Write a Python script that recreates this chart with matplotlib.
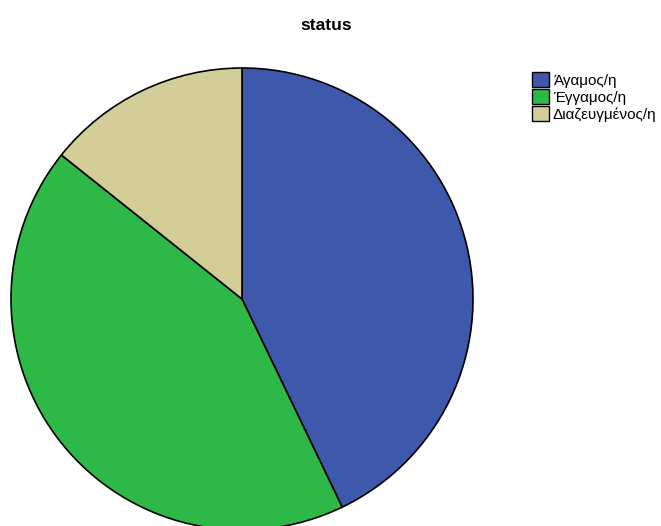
import matplotlib.pyplot as plt
from matplotlib.patches import Patch

# Values (counts per marital status)
labels = ['Άγαμος/η', 'Έγγαμος/η', 'Διαζευγμένος/η']
counts = [3, 3, 1]
colors = ['#3e58ac', '#2eb848', '#d3ce97']

plt.rcParams['font.family'] = ['Liberation Sans', 'DejaVu Sans']

W, H = 661, 526
fig = plt.figure(figsize=(W / 100, H / 100), dpi=100)
ax = fig.add_axes([0, 0, 1, 1])
ax.set_xlim(0, W)
ax.set_ylim(0, H)
ax.set_aspect('equal')
ax.axis('off')

# pie centre / radius in pixel coords (y measured from bottom)
ax.pie(counts, colors=colors, startangle=90, counterclock=False,
       center=(242, H - 299), radius=231,
       wedgeprops={'edgecolor': 'black', 'linewidth': 1.2})
ax.set_xlim(0, W)
ax.set_ylim(0, H)

fig.text(326 / W, 1 - 25 / H, 'status', ha='center', va='center',
         fontsize=12.5, fontweight='bold')

handles = [Patch(facecolor=c, edgecolor='black', linewidth=1) for c in colors]
fig.legend(handles, labels, loc='upper left', bbox_to_anchor=(526 / W, 1 - 66 / H),
           frameon=False, fontsize=11, handlelength=1.1, handleheight=1.1,
           handletextpad=0.25, labelspacing=0.1, borderaxespad=0)

fig.savefig('out.png', dpi=100)
